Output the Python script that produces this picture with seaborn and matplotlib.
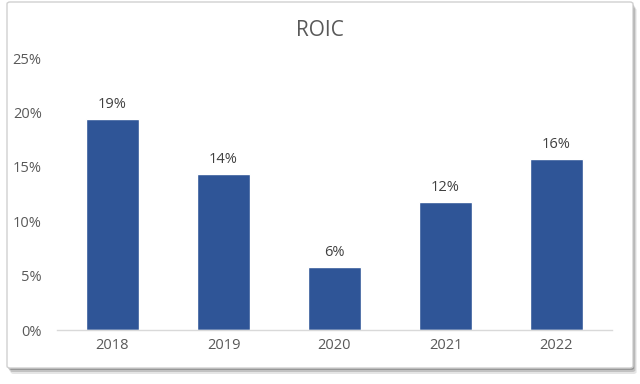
import matplotlib
matplotlib.use("Agg")
import matplotlib.pyplot as plt
import seaborn as sns
import pandas as pd
from matplotlib.patches import FancyBboxPatch
from matplotlib.ticker import FuncFormatter

years = ["2018", "2019", "2020", "2021", "2022"]
roic = [0.194, 0.143, 0.058, 0.118, 0.157]
labels = ["19%", "14%", "6%", "12%", "16%"]
yticks = [0, 0.05, 0.10, 0.15, 0.20, 0.25]

sns.set_theme(style="white")
plt.rcParams['font.family'] = ['Open Sans', 'DejaVu Sans']

fig = plt.figure(figsize=(6.4, 3.84), dpi=100)
W, H = 640, 384
# shadow and frame
for i, a in enumerate([0.10, 0.15, 0.22]):
    off = 6 - i * 2
    sh = FancyBboxPatch(((7 + off * 0.6) / W, (H - 368 - off) / H), (626) / W, (366) / H,
                        boxstyle="round,pad=0,rounding_size=0.005", transform=fig.transFigure,
                        facecolor="#000000", alpha=a, edgecolor="none", zorder=0)
    fig.patches.append(sh)
frame = FancyBboxPatch((7 / W, (H - 368) / H), 626 / W, 366 / H,
                       boxstyle="round,pad=0,rounding_size=0.005", transform=fig.transFigure,
                       facecolor="white", edgecolor="#d0d0d0", linewidth=1, zorder=1)
fig.patches.append(frame)

ax = fig.add_axes([57 / W, (H - 330) / H, (612 - 57) / W, (330 - 58) / H])
ax.set_zorder(5)
ax.set_facecolor("none")
df = pd.DataFrame({"year": years, "roic": roic})
sns.barplot(data=df, x="year", y="roic", color="#2F5597", width=0.47, saturation=1, ax=ax)
ax.set_ylim(0, 0.25)
ax.set_xlim(-0.5, 4.5)
ax.set_yticks(yticks)
ax.yaxis.set_major_formatter(FuncFormatter(lambda v, p: f"{v*100:.0f}%"))
ax.set_xlabel("")
ax.set_ylabel("")
for s in ["top", "right", "left"]:
    ax.spines[s].set_visible(False)
ax.spines["bottom"].set_color("#d9d9d9")
ax.spines["bottom"].set_linewidth(1)
ax.tick_params(axis="both", length=0, labelsize=10.5, labelcolor="#595959")
ax.tick_params(axis="y", pad=11)
ax.tick_params(axis="x", pad=6)
for i, (v, t) in enumerate(zip(roic, labels)):
    ax.annotate(t, (i, v), xytext=(0, 5), textcoords="offset points", ha="center",
                va="bottom", fontsize=10.5, color="#404040")
fig.text(320 / W, (H - 30) / H, "ROIC", ha="center", va="center", fontsize=15, color="#595959",
         zorder=6)
fig.savefig("out.png", dpi=100)
